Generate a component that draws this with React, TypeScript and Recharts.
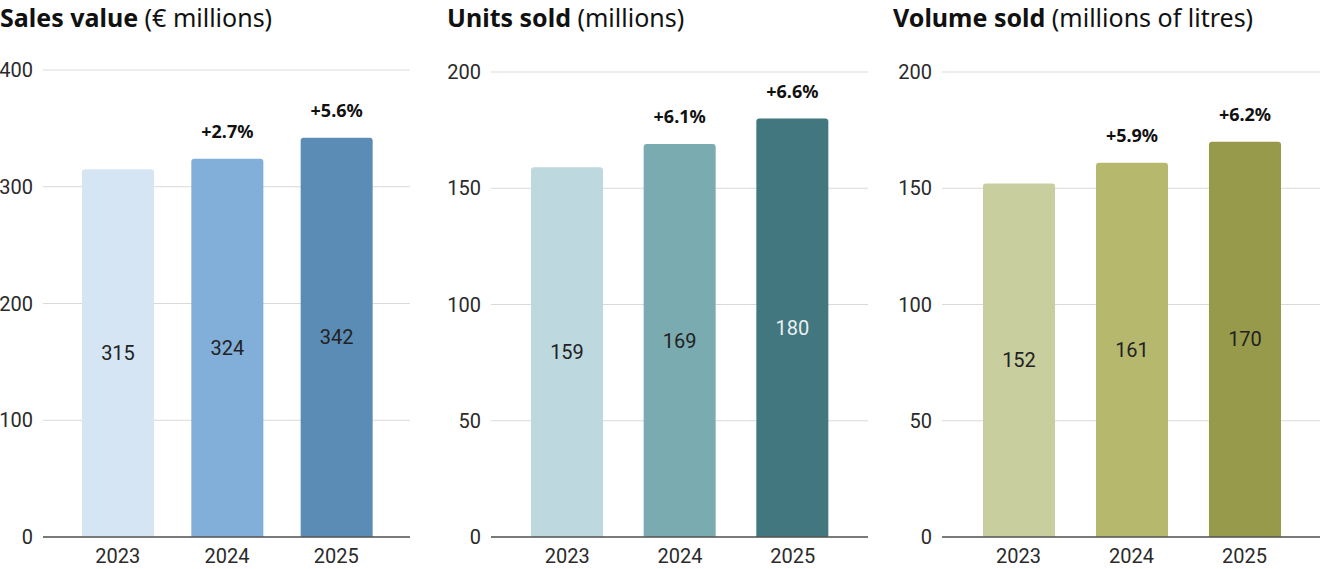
import React from "react";
import { Bar, BarChart, CartesianGrid, Cell, LabelList, XAxis, YAxis } from "recharts";

const years = ["2023", "2024", "2025"];

const salesValue = [315, 324, 342];
const salesChange = ["", "+2.7%", "+5.6%"];
const salesTicks = [0, 100, 200, 300, 400];

const unitsSold = [159, 169, 180];
const unitsChange = ["", "+6.1%", "+6.6%"];
const unitsTicks = [0, 50, 100, 150, 200];

const volumeSold = [152, 161, 170];
const volumeChange = ["", "+5.9%", "+6.2%"];
const volumeTicks = [0, 50, 100, 150, 200];

const TICK_FONT = "Roboto, 'Liberation Sans', sans-serif";
const TITLE_FONT = "'Noto Sans', 'Open Sans', sans-serif";

type PanelProps = {
  bold: string;
  rest: string;
  left: number;
  width: number;
  axisWidth: number;
  top: number;
  values: number[];
  changes: string[];
  ticks: number[];
  colors: string[];
  labelColors: string[];
};

function Panel({
  bold,
  rest,
  left,
  width,
  axisWidth,
  top,
  values,
  changes,
  ticks,
  colors,
  labelColors,
}: PanelProps) {
  const data = years.map((year, i) => ({
    year,
    value: values[i],
    change: changes[i],
  }));

  return (
    <div style={{ position: "absolute", left, top: 0, width, height: 569 }}>
      <div
        style={{
          position: "absolute",
          left: 0,
          top: 1,
          fontFamily: TITLE_FONT,
          fontSize: 25,
          lineHeight: "32px",
          color: "#111",
          whiteSpace: "nowrap",
        }}
      >
        <span style={{ fontWeight: 700 }}>{bold}</span> {rest}
      </div>
      <div style={{ position: "absolute", left: 0, top: 0 }}>
        <BarChart
          data={data}
          height={569}
          margin={{ top, right: 0, bottom: 0, left: 0 }}
          width={width}
        >
          <CartesianGrid stroke="#d9d9d9" strokeWidth={1.2} vertical={false} />
          <XAxis
            axisLine={{ stroke: "#555", strokeWidth: 1.5 }}
            dataKey="year"
            height={32}
            padding={{ left: 20, right: 19 }}
            tick={{ fill: "#2a2a2a", fontSize: 20, fontFamily: TICK_FONT }}
            tickLine={false}
            tickMargin={12}
            tickSize={0}
          />
          <YAxis
            axisLine={false}
            domain={[ticks[0], ticks[ticks.length - 1]]}
            tick={{ fill: "#2a2a2a", fontSize: 20, fontFamily: TICK_FONT }}
            tickLine={false}
            tickMargin={10}
            tickSize={0}
            ticks={ticks}
            width={axisWidth}
          />
          <Bar
            barSize={72}
            dataKey="value"
            isAnimationActive={false}
            radius={[3, 3, 0, 0]}
          >
            {data.map((d, i) => (
              <Cell fill={colors[i]} key={d.year} />
            ))}
            <LabelList
              content={(props: any) => {
                const { x, y, width: w, height: h, index, value } = props;
                return (
                  <text
                    dominantBaseline="central"
                    fill={labelColors[index]}
                    fontFamily={TICK_FONT}
                    fontSize={20}
                    textAnchor="middle"
                    x={x + w / 2}
                    y={y + h / 2}
                  >
                    {value}
                  </text>
                );
              }}
              dataKey="value"
            />
            <LabelList
              content={(props: any) => {
                const { x, y, width: w, value } = props;
                if (!value) {
                  return null;
                }
                return (
                  <text
                    fill="#111"
                    fontFamily={TITLE_FONT}
                    fontSize={18}
                    fontWeight={700}
                    textAnchor="middle"
                    x={x + w / 2}
                    y={y - 21}
                  >
                    {value}
                  </text>
                );
              }}
              dataKey="change"
            />
          </Bar>
        </BarChart>
      </div>
    </div>
  );
}

export default function App() {
  return (
    <div
      style={{
        position: "absolute",
        left: 0,
        top: 0,
        width: 1320,
        height: 569,
        background: "#fff",
        overflow: "hidden",
      }}
    >
      <Panel
        axisWidth={43}
        bold="Sales value"
        changes={salesChange}
        colors={["#d5e5f4", "#81afd9", "#5b8cb5"]}
        labelColors={["#222", "#222", "#222"]}
        left={0}
        rest="(€ millions)"
        ticks={salesTicks}
        top={70}
        values={salesValue}
        width={410}
      />
      <Panel
        axisWidth={44}
        bold="Units sold"
        changes={unitsChange}
        colors={["#bdd8de", "#7aabb0", "#43777f"]}
        labelColors={["#222", "#222", "#e8f0f2"]}
        left={447}
        rest="(millions)"
        ticks={unitsTicks}
        top={72}
        values={unitsSold}
        width={421}
      />
      <Panel
        axisWidth={49}
        bold="Volume sold"
        changes={volumeChange}
        colors={["#c9ce9f", "#b6b86e", "#979a4b"]}
        labelColors={["#222", "#222", "#222"]}
        left={893}
        rest="(millions of litres)"
        ticks={volumeTicks}
        top={72}
        values={volumeSold}
        width={427}
      />
    </div>
  );
}
